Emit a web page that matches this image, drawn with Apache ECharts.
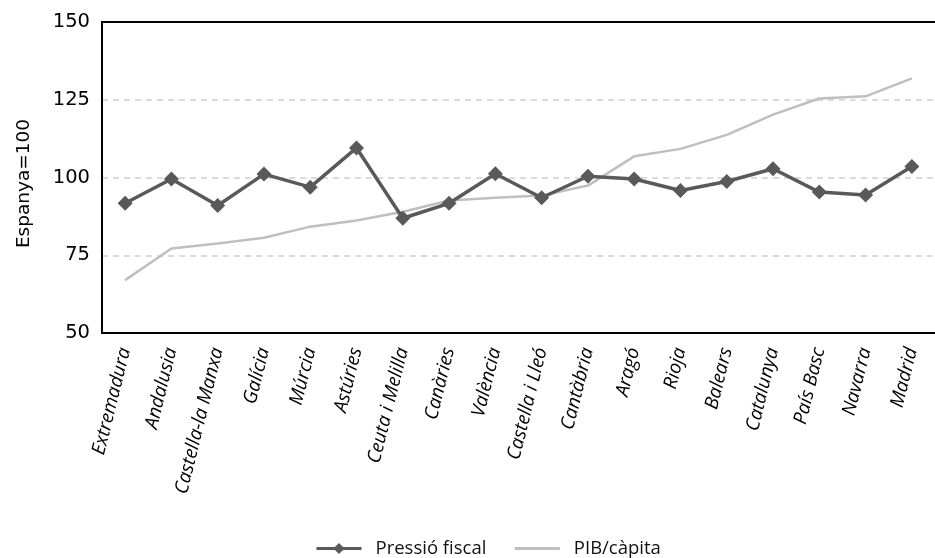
<!DOCTYPE html>
<html>
<head>
<meta charset="utf-8">
<script src="https://cdn.jsdelivr.net/npm/echarts@6/dist/echarts.min.js"></script>
<style>
  html, body { margin: 0; padding: 0; background: #fff; }
  #chart { width: 935px; height: 558px; }
</style>
</head>
<body>
<div id="chart"></div>
<script>
// Regions ordered by GDP per capita (Spain = 100)
const regions = ['Extremadura', 'Andalusia', 'Castella-la Manxa', 'Galícia', 'Múrcia', 'Astúries',
  'Ceuta i Melilla', 'Canàries', 'València', 'Castella i Lleó', 'Cantàbria', 'Aragó', 'Rioja',
  'Balears', 'Catalunya', 'País Basc', 'Navarra', 'Madrid'];
const pressioFiscal = [91.7, 99.5, 91.0, 101.1, 96.9, 109.5, 86.9, 91.7, 101.2, 93.5, 100.4,
  99.5, 95.8, 98.7, 102.8, 95.3, 94.4, 103.5];
const pibCapita = [67.0, 77.2, 78.8, 80.6, 84.2, 86.2, 89.0, 92.6, 93.5, 94.2, 97.4,
  106.8, 109.2, 113.7, 120.2, 125.4, 126.1, 131.9];
const yTicks = [50, 75, 100, 125, 150];

const chart = echarts.init(document.getElementById('chart'));
chart.setOption({
  animation: false,
  grid: { left: 102, top: 22, bottom: 225, right: -5 },
  legend: {
    bottom: -5,
    left: 310,
    itemWidth: 45,
    itemHeight: 14,
    itemGap: 27,
    textStyle: { fontFamily: 'Open Sans', fontSize: 18.5, color: '#111', padding: [0, 0, 0, 9] },
    data: [
      { name: 'Pressió fiscal', lineStyle: { width: 3 } },
      { name: 'PIB/càpita', itemStyle: { opacity: 0 }, lineStyle: { width: 3 } }
    ]
  },
  xAxis: [{
    type: 'category',
    data: regions,
    boundaryGap: true,
    axisLine: { lineStyle: { color: '#000', width: 2 } },
    axisTick: { show: false },
    axisLabel: {
      rotate: 76,
      interval: 0,
      margin: 15,
      fontFamily: 'Open Sans',
      fontStyle: 'italic',
      fontSize: 19,
      color: '#000'
    }
  }, {
    type: 'category',
    position: 'top',
    data: regions,
    axisLine: { show: true, lineStyle: { color: '#000', width: 2 } },
    axisTick: { show: false },
    axisLabel: { show: false }
  }],
  yAxis: {
    type: 'value',
    min: yTicks[0],
    max: yTicks[yTicks.length - 1],
    interval: 25,
    name: 'Espanya=100',
    nameLocation: 'middle',
    nameRotate: 90,
    nameGap: 68,
    nameTextStyle: { fontFamily: 'DejaVu Sans', fontSize: 18.5, color: '#000', padding: [0, 12, 0, 0] },
    axisLine: { show: true, lineStyle: { color: '#000', width: 2 } },
    axisTick: { show: false },
    axisLabel: { fontFamily: 'DejaVu Sans', fontSize: 19.5, color: '#000', margin: 12 },
    splitLine: {
      show: true,
      lineStyle: { color: '#cfcfcf', type: [6, 5], width: 1.5 }
    }
  },
  series: [{
    name: 'Pressió fiscal',
    type: 'line',
    data: pressioFiscal,
    symbol: 'diamond',
    symbolSize: 15,
    lineStyle: { color: '#595959', width: 3.5 },
    itemStyle: { color: '#595959' },
    z: 3
  }, {
    name: 'PIB/càpita',
    type: 'line',
    data: pibCapita,
    symbol: 'none',
    lineStyle: { color: '#bfbfbf', width: 2.5 },
    itemStyle: { color: '#bfbfbf' },
    z: 2
  }]
});
</script>
</body>
</html>
